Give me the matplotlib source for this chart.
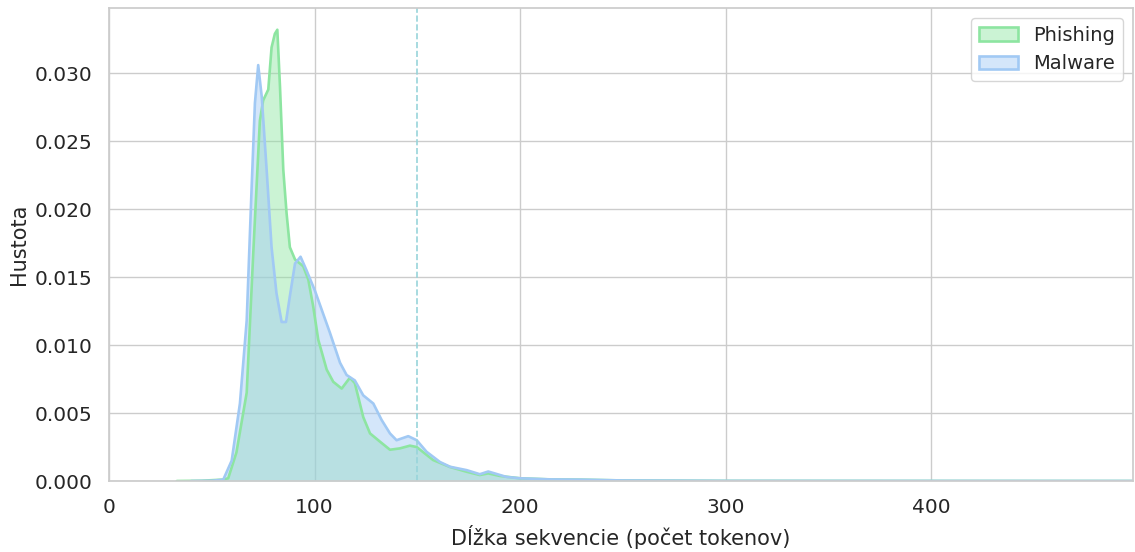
import matplotlib
matplotlib.use("Agg")
import matplotlib.pyplot as plt
import seaborn as sns
from matplotlib.patches import Patch

# Density of sequence lengths (token counts), read per class
phishing_x = [33, 45, 55, 58, 62, 67, 70.2, 73.4, 75, 77.5, 79.1, 80.7, 81.9,
              83.2, 84.8, 86.4, 88, 90.5, 94.5, 97, 99.4, 101.8, 105.9, 109.1,
              113.2, 117.2, 119.6, 123.7, 127, 131.8, 136.7, 141.5, 146.4,
              149.7, 157.7, 165.9, 174, 180.4, 184.5, 190.2, 200, 214.5, 230,
              250, 300, 400, 498]
phishing_y = [0.0, 0.00002, 0.0001, 0.0002, 0.0021, 0.0065, 0.0168, 0.0265,
              0.0280, 0.0288, 0.0319, 0.0329, 0.0332, 0.0290, 0.0229, 0.0197,
              0.0172, 0.0163, 0.0158, 0.0148, 0.0128, 0.0104, 0.0082, 0.0073,
              0.0068, 0.0076, 0.0072, 0.0047, 0.0035, 0.0029, 0.0023, 0.0024,
              0.0026, 0.0025, 0.00154, 0.00103, 0.00068, 0.00044, 0.00056,
              0.00037, 0.0002, 0.00012, 0.0001, 0.00004, 0.00001, 0.000005, 0.0]

malware_x = [40, 50, 55.6, 59.7, 63.7, 67, 69.4, 71, 72.6, 74.3, 76.7, 79.1,
             81.5, 84, 86.1, 88, 90.5, 93.2, 96.1, 100.2, 104.2, 107.5, 112.4,
             115.6, 119.6, 123.7, 128.6, 132.6, 136.7, 139.9, 145.6, 149.7,
             154.5, 161, 165.9, 174, 180.4, 184.5, 193.4, 200, 214.5, 230, 250,
             300, 400, 498]
malware_y = [0.0, 0.00002, 0.0001, 0.0015, 0.0057, 0.0118, 0.0216, 0.0278,
             0.0306, 0.0283, 0.0229, 0.0172, 0.0138, 0.0117, 0.0117, 0.0136,
             0.0160, 0.0165, 0.0155, 0.0140, 0.0123, 0.0109, 0.0087, 0.0078,
             0.0074, 0.0063, 0.0057, 0.0045, 0.0035, 0.0030, 0.0033, 0.0030,
             0.00215, 0.0014, 0.00105, 0.0008, 0.0005, 0.0007, 0.0003, 0.0002,
             0.00012, 0.0001, 0.00004, 0.00001, 0.000005, 0.0]

classes = ["Phishing", "Malware"]
threshold = 150

sns.set_theme(style="whitegrid")
plt.rcParams["font.family"] = ["DejaVu Sans"]

palette = sns.color_palette("pastel")
colors = {"Phishing": palette[2], "Malware": palette[0]}

fig, ax = plt.subplots(figsize=(11.35, 5.52), dpi=100)
fig.subplots_adjust(left=0.096, right=0.998, top=0.9855, bottom=0.1286)

series = {"Phishing": (phishing_x, phishing_y), "Malware": (malware_x, malware_y)}
for name in classes:
    xs, ys = series[name]
    c = colors[name]
    ax.fill_between(xs, ys, color=c, alpha=0.45, linewidth=0)
    ax.plot(xs, ys, color=c, linewidth=1.9)

# legend patches: light fill with solid pastel edge
handles = [Patch(facecolor=(*colors[n], 0.45), edgecolor=colors[n], linewidth=1.9,
                 label=n) for n in classes]
ax.legend(handles=handles, loc="upper right", fontsize=14)

ax.axvline(threshold, color="#98d4da", linestyle="--", linewidth=1.2)

ax.set_xlim(0, 498)
ax.set_ylim(0, 0.0348)
ax.set_xticks([0, 100, 200, 300, 400])
ax.set_yticks([0.0, 0.005, 0.01, 0.015, 0.02, 0.025, 0.03])
ax.yaxis.set_major_formatter(matplotlib.ticker.FormatStrFormatter("%.3f"))
ax.tick_params(labelsize=14.5, pad=6)
ax.set_xlabel("Dĺžka sekvencie (počet tokenov)", fontsize=15, labelpad=6)
ax.set_ylabel("Hustota", fontsize=15, labelpad=4)

plt.savefig("out.png", dpi=100)
plt.close()
